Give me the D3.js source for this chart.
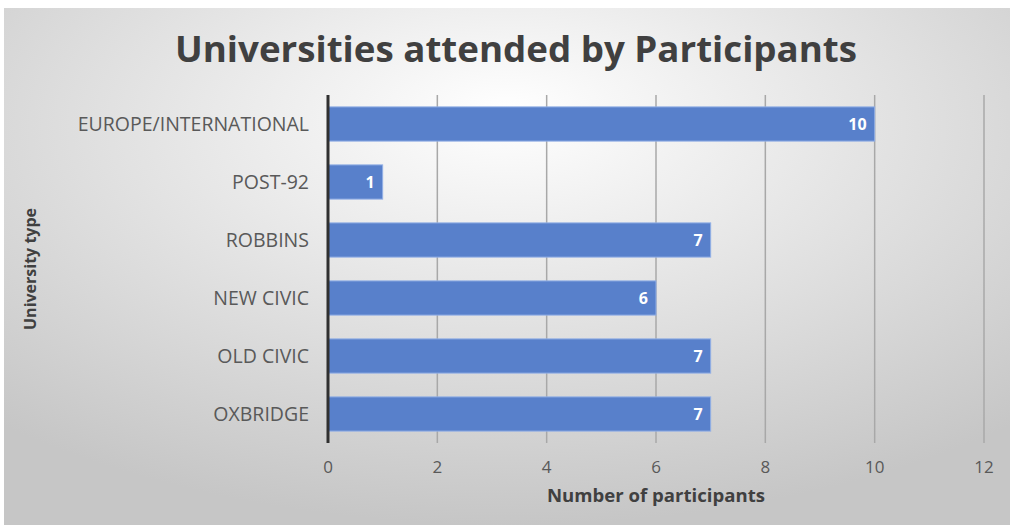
<!DOCTYPE html>
<html>
<head>
<meta charset="utf-8">
<script src="https://cdn.jsdelivr.net/npm/d3@7"></script>
<style>
  body { margin: 0; background: #fff; }
  text { font-family: "Open Sans", "Noto Sans", sans-serif; }
</style>
</head>
<body>
<script>
'use strict';
const categories = ["EUROPE/INTERNATIONAL", "POST-92", "ROBBINS", "NEW CIVIC", "OLD CIVIC", "OXBRIDGE"];
const counts = [10, 1, 7, 6, 7, 7];
const xTicks = [0, 2, 4, 6, 8, 10, 12];

(function () {
  const W = 1010, H = 526;
  const svg = d3.select('body').append('svg').attr('width', W).attr('height', H);

  const defs = svg.append('defs');
  const grad = defs.append('radialGradient')
    .attr('id', 'bg').attr('cx', '50%').attr('cy', '25%').attr('r', '75%')
    .attr('fx', '50%').attr('fy', '20%');
  grad.append('stop').attr('offset', '0%').attr('stop-color', '#ffffff');
  grad.append('stop').attr('offset', '100%').attr('stop-color', '#c6c6c6');

  svg.append('rect').attr('x', 4).attr('y', 8).attr('width', W - 4).attr('height', H - 9)
    .attr('fill', 'url(#bg)');

  const plotLeft = 328, plotRight = 984, plotTop = 95, plotBottom = 443;
  const x = d3.scaleLinear().domain([0, 12]).range([plotLeft, plotRight]);
  const y = d3.scaleBand().domain(categories).range([plotTop, plotBottom]).paddingInner(0.41).paddingOuter(0.205);

  // gridlines
  svg.append('g').selectAll('line').data(xTicks.slice(1)).enter().append('line')
    .attr('x1', d => x(d)).attr('x2', d => x(d))
    .attr('y1', plotTop).attr('y2', plotBottom)
    .attr('stroke', '#a8a8a8').attr('stroke-width', 1.5);

  // bars
  svg.append('g').selectAll('rect').data(categories).enter().append('rect')
    .attr('x', x(0)).attr('y', d => y(d))
    .attr('width', (d, i) => x(counts[i]) - x(0))
    .attr('height', y.bandwidth())
    .attr('fill', '#5880cb').attr('stroke', '#93b0e6').attr('stroke-width', 1);

  // data labels
  svg.append('g').selectAll('text').data(categories).enter().append('text')
    .attr('x', (d, i) => x(counts[i]) - 8)
    .attr('y', d => y(d) + y.bandwidth() / 2)
    .attr('dy', '0.35em').attr('text-anchor', 'end')
    .attr('fill', '#ffffff').style('font-weight', 'bold').style('font-size', '16px')
    .text((d, i) => counts[i]);

  // y axis line
  svg.append('line').attr('x1', plotLeft).attr('x2', plotLeft).attr('y1', plotTop).attr('y2', plotBottom)
    .attr('stroke', '#303030').attr('stroke-width', 3);

  // category labels
  svg.append('g').selectAll('text').data(categories).enter().append('text')
    .attr('x', 309).attr('y', d => y(d) + y.bandwidth() / 2)
    .attr('dy', '0.35em').attr('text-anchor', 'end')
    .attr('fill', '#595959').style('font-size', '19.5px')
    .text(d => d);

  // x tick labels
  svg.append('g').selectAll('text').data(xTicks).enter().append('text')
    .attr('x', d => x(d)).attr('y', 467).attr('dy', '0.35em')
    .attr('text-anchor', 'middle').attr('fill', '#595959').style('font-size', '17px')
    .text(d => d);

  // axis titles
  svg.append('text').attr('x', 656).attr('y', 496).attr('dy', '0.35em')
    .attr('text-anchor', 'middle').attr('fill', '#404040')
    .style('font-weight', 'bold').style('font-size', '17px')
    .attr('textLength', 218).attr('lengthAdjust', 'spacingAndGlyphs')
    .text('Number of participants');

  svg.append('text').attr('transform', 'translate(30, 269) rotate(-90)').attr('dy', '0.35em')
    .attr('text-anchor', 'middle').attr('fill', '#404040')
    .style('font-weight', 'bold').style('font-size', '16px')
    .attr('textLength', 122).attr('lengthAdjust', 'spacingAndGlyphs')
    .text('University type');

  // chart title
  svg.append('text').attr('x', 516).attr('y', 49).attr('dy', '0.35em')
    .attr('text-anchor', 'middle').attr('fill', '#404040')
    .style('font-weight', 'bold').style('font-size', '36px')
    .attr('textLength', 682).attr('lengthAdjust', 'spacingAndGlyphs')
    .text('Universities attended by Participants');
})();
</script>
</body>
</html>
